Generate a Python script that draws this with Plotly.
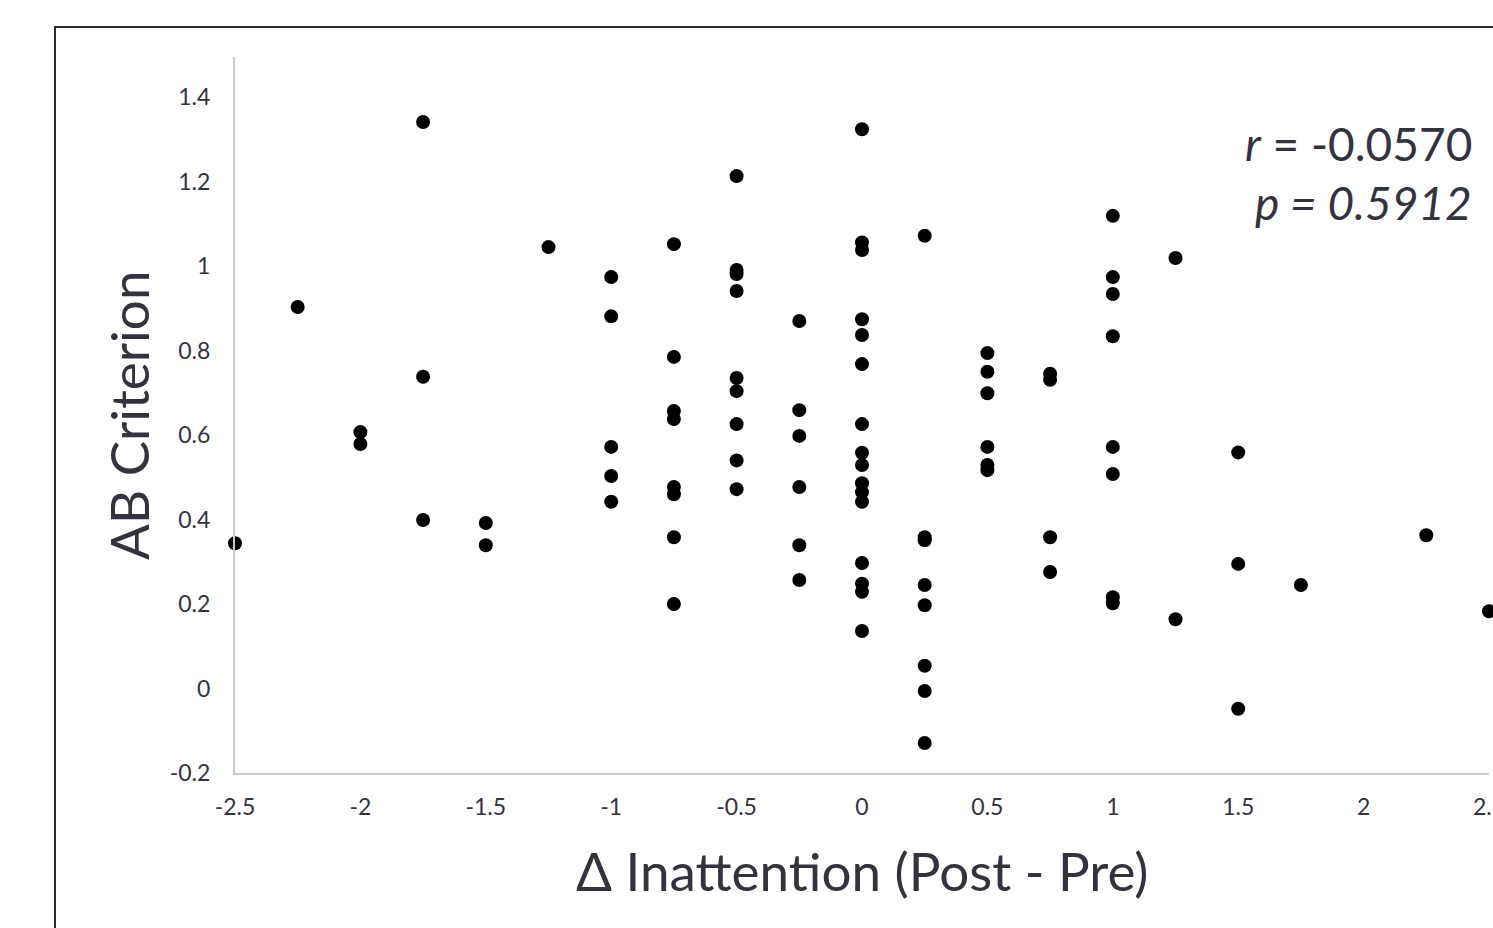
import plotly.graph_objects as go

# Data
delta_inattention = (
    [-2.5] + [-2.25] + [-2.0] * 2 + [-1.75] * 3 + [-1.5] * 2 + [-1.25]
    + [-1.0] * 5 + [-0.75] * 8 + [-0.5] * 9 + [-0.25] * 6 + [0.0] * 16
    + [0.25] * 8 + [0.5] * 6 + [0.75] * 4 + [1.0] * 8 + [1.25] * 2
    + [1.5] * 3 + [1.75] + [2.25] + [2.5]
)
ab_criterion = (
    [0.344]
    + [0.903]
    + [0.607, 0.579]
    + [1.341, 0.738, 0.399]
    + [0.392, 0.339]
    + [1.045]
    + [0.974, 0.881, 0.572, 0.503, 0.442]
    + [1.052, 0.785, 0.657, 0.638, 0.477, 0.460, 0.358, 0.200]
    + [1.213, 0.991, 0.981, 0.941, 0.735, 0.704, 0.626, 0.540, 0.472]
    + [0.870, 0.659, 0.598, 0.477, 0.339, 0.257]
    + [1.324, 1.056, 1.038, 0.874, 0.837, 0.768, 0.626, 0.558, 0.529,
       0.486, 0.465, 0.442, 0.297, 0.248, 0.229, 0.136]
    + [1.072, 0.358, 0.351, 0.245, 0.197, 0.054, -0.006, -0.129]
    + [0.794, 0.750, 0.699, 0.572, 0.529, 0.517]
    + [0.745, 0.731, 0.358, 0.276]
    + [1.119, 0.974, 0.934, 0.834, 0.572, 0.508, 0.216, 0.202]
    + [1.019, 0.164]
    + [0.559, 0.295, -0.048]
    + [0.245]
    + [0.363]
    + [0.183]
)

x_tick_vals = [-2.5, -2.0, -1.5, -1.0, -0.5, 0.0, 0.5, 1.0, 1.5, 2.0, 2.5]
x_tick_text = ["-2.5", "-2", "-1.5", "-1", "-0.5", "0", "0.5", "1", "1.5", "2", "2.5"]
y_tick_vals = [-0.2, 0.0, 0.2, 0.4, 0.6, 0.8, 1.0, 1.2, 1.4]
y_tick_text = ["-0.2", "0", "0.2", "0.4", "0.6", "0.8", "1", "1.2", "1.4"]

x_title = "Δ Inattention (Post - Pre)"
y_title = "AB Criterion"
r_text = "<i>r</i> = -0.0570"
p_text = "<i>p = 0.5912</i>"

W, H = 1493, 928
L, R, T, B = 235, 4, 57, 155
pw, ph = W - L - R, H - T - B

def px(xp):
    return (xp - L) / pw

def py(yp):
    return (H - B - yp) / ph

FONT = "Lato, 'Open Sans', sans-serif"
TXT = "#33333f"
AXC = "#c9c9d9"
TICK_SIZE = 23

fig = go.Figure()
fig.add_trace(go.Scatter(
    x=delta_inattention, y=ab_criterion, mode="markers",
    marker=dict(color="black", size=14, line=dict(width=0)),
    cliponaxis=False, showlegend=False,
))

annotations = [
    dict(text=y_title, xref="paper", yref="paper", x=px(128), y=py(416),
         textangle=-90, showarrow=False, xanchor="center", yanchor="middle",
         font=dict(size=53, color=TXT, family=FONT)),
    dict(text=x_title, xref="paper", yref="paper", x=px(862), y=py(870),
         showarrow=False, xanchor="center", yanchor="middle",
         font=dict(size=53, color=TXT, family=FONT)),
    dict(text=r_text, xref="paper", yref="paper", x=px(1474), y=py(144),
         showarrow=False, xanchor="right", yanchor="middle",
         font=dict(size=46, color=TXT, family=FONT)),
    dict(text=p_text, xref="paper", yref="paper", x=px(1474), y=py(202),
         showarrow=False, xanchor="right", yanchor="middle",
         font=dict(size=46, color=TXT, family=FONT)),
]
# the last x tick label runs off the page edge in the reference
annotations.append(dict(
    text=x_tick_text[-1], xref="x", yref="paper", x=x_tick_vals[-1], y=py(806),
    showarrow=False, xanchor="center", yanchor="middle",
    font=dict(size=TICK_SIZE, color=TXT, family=FONT),
))

fig.update_layout(
    width=W, height=H,
    margin=dict(l=L, r=R, t=T, b=B),
    paper_bgcolor="white", plot_bgcolor="white",
    font=dict(family=FONT, color=TXT),
    xaxis=dict(
        range=[-2.5, 2.5], tickvals=x_tick_vals[:-1], ticktext=x_tick_text[:-1],
        showgrid=False, zeroline=False, showline=True, linecolor=AXC, linewidth=2,
        ticks="outside", ticklen=12, tickcolor="rgba(0,0,0,0)",
        tickfont=dict(size=TICK_SIZE, color=TXT, family=FONT),
    ),
    yaxis=dict(
        range=[-0.2, 1.495], tickvals=y_tick_vals, ticktext=y_tick_text,
        showgrid=False, zeroline=False, showline=True, linecolor=AXC, linewidth=2,
        ticks="outside", ticklen=18, tickcolor="rgba(0,0,0,0)",
        tickfont=dict(size=TICK_SIZE, color=TXT, family=FONT),
    ),
    shapes=[dict(
        type="rect", xref="paper", yref="paper",
        x0=px(55), x1=px(1510), y0=py(945), y1=py(27),
        line=dict(color="#2b2b38", width=2), fillcolor="rgba(0,0,0,0)",
        layer="below",
    )],
    annotations=annotations,
)

fig.write_html("out.html")
